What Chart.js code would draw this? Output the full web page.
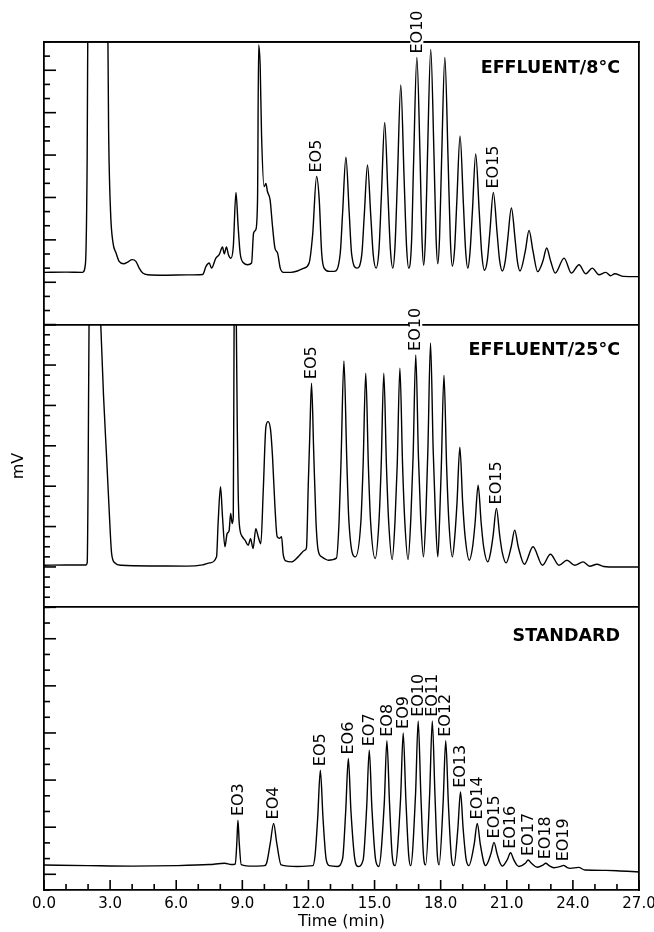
<!DOCTYPE html>
<html><head><meta charset="utf-8">
<script src="https://cdn.jsdelivr.net/npm/chart.js@4.4.1/dist/chart.umd.min.js"></script>
<style>html,body{margin:0;padding:0;background:#fff;}#wrap{width:654px;height:932px;position:relative;}</style>
</head><body><div id="wrap"><canvas id="c"></canvas></div>
<script>
// ---------- DATA ----------
// EFFLUENT/8°C trace
const time8 = [0.0,1.0,1.75,1.88,1.96,2.00,2.45,2.88,2.93,3.02,3.13,3.27,3.41,3.62,3.80,4.00,4.17,4.32,4.48,4.70,5.50,6.50,7.20,7.35,7.50,7.60,7.80,7.95,8.10,8.18,8.28,8.37,8.48,8.59,8.71,8.81,8.90,9.06,9.24,9.42,9.51,9.61,9.69,9.74,9.81,9.87,9.99,10.07,10.14,10.26,10.37,10.48,10.60,10.72,10.87,11.20,11.50,11.80,12.03,12.19,12.37,12.49,12.60,12.71,12.95,13.17,
  13.44,13.55,13.70,13.85,13.96,14.20,
  14.42,14.53,14.68,14.83,14.94,15.07,
  15.20,15.31,15.46,15.61,15.72,15.83,
  15.93,16.04,16.19,16.34,16.45,16.55,
  16.68,16.77,16.92,17.07,17.15,17.23,
  17.31,17.40,17.55,17.70,17.79,17.87,
  17.95,18.04,18.19,18.34,18.44,18.53,
  18.63,18.73,18.88,19.03,19.13,19.23,
  19.33,19.44,19.59,19.75,19.86,19.99,
  20.12,20.23,20.39,20.56,20.67,20.80,
  20.93,21.04,21.21,21.38,21.48,21.60,
  21.84,22.01,22.19,22.40,
  22.64,22.81,22.99,23.20,
  23.60,23.93,24.28,24.58,24.88,25.18,25.49,25.71,25.90,26.30,27.00];
const mv8 = [3.70,3.72,3.70,4.3,12,24,32,24,14,8,5.8,5.07,4.48,4.31,4.43,4.60,4.48,4.0,3.65,3.53,3.50,3.52,3.55,4.12,4.36,4.0,4.71,4.95,5.5,5.0,5.5,4.95,4.7,5.53,9.35,6.93,5.07,4.36,4.24,4.36,6.48,6.72,8.84,19.8,18.26,13.55,9.77,10.0,9.42,8.83,6.95,5.42,5.06,4.0,3.7,3.7,3.8,4.0,4.36,6.36,10.48,8.83,5.07,4.0,3.77,3.77,
  5.0,7.9,11.85,7.9,5.0,4.0,
  4.95,7.65,11.3,7.65,4.95,4.0,
  5.3,9.1,14.3,9.1,5.3,4.0,
  5.6,10.4,16.96,10.4,5.6,4.0,
  5.9,11.4,18.9,11.5,6.2,4.2,
  6.2,11.8,19.48,11.8,6.2,4.3,
  6.2,11.5,18.9,11.5,6.0,4.15,
  5.3,8.6,13.36,8.6,5.3,4.0,
  5.1,8.0,12.08,8.0,5.1,3.85,
  4.6,6.5,9.35,6.5,4.6,3.8,
  4.5,6.0,8.25,6.0,4.5,3.8,
  5.2,6.67,5.2,3.75,
  4.5,5.42,4.5,3.65,
  4.71,3.65,4.24,3.6,4.0,3.53,3.7,3.46,3.6,3.42,3.40];

// EFFLUENT/25°C trace
const time25 = [0.0,1.0,1.90,1.96,2.00,2.05,2.30,2.54,2.70,2.84,2.96,3.07,3.22,3.50,5.00,6.47,7.20,7.53,7.83,7.90,8.01,8.10,8.21,8.31,8.40,8.47,8.54,8.59,8.63,8.68,8.72,8.77,8.81,8.86,9.00,9.12,9.27,9.37,9.49,9.61,9.72,9.84,9.95,10.07,10.17,10.28,10.37,10.48,10.58,10.70,10.78,10.85,10.97,11.23,11.53,11.84,11.91,11.99,12.06,12.14,12.24,12.34,12.44,12.60,12.75,12.90,13.27,
  13.39,13.48,13.61,13.74,13.83,14.13,
  14.38,14.48,14.60,14.72,14.82,15.03,
  15.20,15.30,15.42,15.54,15.64,15.80,
  15.93,16.03,16.15,16.27,16.37,16.52,
  16.65,16.75,16.87,16.99,17.09,17.22,
  17.33,17.42,17.54,17.66,17.76,17.87,
  17.95,18.03,18.15,18.27,18.37,18.53,
  18.64,18.74,18.87,19.00,19.11,19.30,
  19.45,19.56,19.70,19.84,19.95,20.14,
  20.27,20.38,20.53,20.68,20.79,20.97,
  21.20,21.36,21.52,21.80,
  22.19,22.62,22.98,23.37,23.73,24.08,24.46,24.76,25.09,25.40,26.00,27.00];
const mv25 = [4.17,4.2,4.2,4.4,12,30,40,30,21,14.9,9.5,5.3,4.4,4.17,4.1,4.08,4.2,4.4,5.0,8.3,11.95,8.97,6.0,7.3,7.6,9.3,8.3,9.0,30,38,30,18,11.6,8.3,7.0,6.65,6.15,6.8,5.83,7.8,7.0,6.3,11.6,17.9,18.4,17.6,14.9,9.96,7.0,6.85,7.0,5.33,4.6,4.5,5.0,5.66,5.9,11.95,17.0,22.2,15.3,8.6,5.66,5.0,4.8,4.67,4.87,
  8.5,14.6,24.4,14.6,8.8,5.0,
  8.5,14.0,23.2,14.0,8.5,4.83,
  8.5,14.0,23.2,14.0,8.5,4.73,
  8.6,14.2,23.7,14.2,8.6,4.73,
  9.0,15.0,25.0,15.0,9.0,5.0,
  9.2,15.6,26.2,15.6,9.2,5.0,
  8.6,14.0,23.0,14.0,8.6,5.0,
  7.0,10.3,15.86,10.3,7.0,4.67,
  6.0,8.3,12.1,8.3,6.0,4.5,
  5.5,7.1,9.8,7.1,5.5,4.4,
  6.0,7.65,6.0,4.27,
  6.0,4.17,5.26,4.17,4.67,4.17,4.5,4.07,4.27,4.05,4.0,4.0];

// STANDARD trace
const timeStd = [0.0,2.0,4.0,6.0,7.5,8.2,8.50,8.68,8.75,8.80,8.86,8.95,9.5,10.0,10.10,10.27,10.42,10.56,10.76,11.5,12.20,12.30,12.42,12.54,12.66,12.80,12.95,13.30,13.55,13.69,13.81,13.93,14.10,14.25,14.48,14.64,14.76,14.88,15.05,15.19,15.44,15.56,15.68,15.80,15.93,16.18,16.30,16.42,16.55,16.64,16.86,16.98,17.10,17.22,17.32,17.50,17.62,17.74,17.85,17.93,18.11,18.23,18.35,18.48,18.60,18.78,18.90,19.02,19.15,19.28,19.52,19.66,19.80,19.95,20.04,20.28,20.42,20.56,20.70,20.79,21.03,21.17,21.31,21.45,21.55,21.84,21.97,22.12,22.38,22.64,22.77,22.92,23.13,23.45,23.58,23.72,23.88,24.26,24.55,25.5,26.0,27.0];
const mvStd = [1.59,1.55,1.52,1.55,1.62,1.70,1.62,1.65,3.0,4.45,3.0,1.62,1.52,1.55,1.7,3.0,4.24,3.0,1.6,1.5,1.55,2.2,4.6,7.63,4.6,2.0,1.55,1.5,2.0,5.0,8.37,5.0,2.0,1.5,1.9,5.2,8.9,5.2,1.9,1.5,5.5,9.5,5.5,2.2,1.55,5.8,10.0,5.8,2.2,1.55,6.1,10.77,6.1,2.2,1.6,6.1,10.77,6.1,2.2,1.6,5.5,9.5,5.5,2.2,1.55,3.9,6.25,3.9,2.0,1.55,2.9,4.24,2.9,1.8,1.55,2.3,3.03,2.3,1.7,1.52,1.95,2.37,1.95,1.6,1.5,1.7,1.91,1.7,1.45,1.58,1.7,1.55,1.42,1.5,1.57,1.45,1.38,1.44,1.27,1.25,1.23,1.15];

// Peak labels
const labels8 = ['EO5','EO10','EO15'];
const labelTime8 = [12.37,16.92,20.39];
const labelMv8 = [10.48,18.9,9.35];
const labels25 = ['EO5','EO10','EO15'];
const labelTime25 = [12.14,16.87,20.53];
const labelMv25 = [22.2,25.0,9.8];
const labelsStd = ['EO3','EO4','EO5','EO6','EO7','EO8','EO9','EO10','EO11','EO12','EO13','EO14','EO15','EO16','EO17','EO18','EO19'];
const labelTimeStd = [8.80,10.42,12.54,13.81,14.76,15.56,16.30,16.98,17.62,18.23,18.90,19.66,20.42,21.17,21.97,22.77,23.58];
const labelMvStd = [4.45,4.24,7.63,8.37,8.9,9.5,10.0,10.77,10.77,9.5,6.25,4.24,3.03,2.37,1.91,1.7,1.57];

// Panel titles
const panelTitles = ['EFFLUENT/8°C','EFFLUENT/25°C','STANDARD'];

// Axis ticks
const xTickValues = [0,1,2,3,4,5,6,7,8,9,10,11,12,13,14,15,16,17,18,19,20,21,22,23,24,25,26,27];
const xMajorTicks = [0,3,6,9,12,15,18,21,24,27];
const yTicks8 = [0,1,2,3,4,5,6,7,8,9,10,11,12,13,14,15,16,17,18,19,20];
const yMajor8 = [0,3,6,9,12,15,18];
const yTicks25 = [0,1,2,3,4,5,6,7,8,9,10,11,12,13,14,15,16,17,18,19,20,21,22,23,24,25,26,27,28];
const yMajor25 = [0,4,8,12,16,20,24,28];
const yTicksStd = [0,1,2,3,4,5,6,7,8,9,10,11,12,13,14,15,16,17,18];
const yMajorStd = [1,4,7,10,13,16];

// ---------- CHART ----------
const FONT = '"DejaVu Sans", sans-serif';
Chart.defaults.font.family = FONT;
Chart.defaults.color = '#000';

const pts = (t, v) => t.map((x, i) => ({x: x, y: v[i]}));

const panels = [
  {axis: 'y8', ticks: yTicks8, major: yMajor8, labels: labels8, lt: labelTime8, lv: labelMv8, title: panelTitles[0], tdy: 31},
  {axis: 'y25', ticks: yTicks25, major: yMajor25, labels: labels25, lt: labelTime25, lv: labelMv25, title: panelTitles[1], tdy: 30},
  {axis: 'yStd', ticks: yTicksStd, major: yMajorStd, labels: labelsStd, lt: labelTimeStd, lv: labelMvStd, title: panelTitles[2], tdy: 34}
];

function panelAxis(max, withTitle) {
  return {
    type: 'linear', position: 'left', stack: 'panels', stackWeight: 1,
    min: 0, max: max,
    ticks: {display: false, stepSize: 1},
    border: {display: true, color: '#000', width: 1.8},
    grid: {drawTicks: false, drawOnChartArea: true, lineWidth: 1.8,
      color: c => (c.tick && c.tick.value === max) ? '#000' : 'rgba(0,0,0,0)'},
    title: withTitle ? {display: true, text: 'mV', font: {size: 16}, color: '#000', padding: {top: 9, bottom: 0}} : {display: false},
    afterFit: s => { s.width = 44; }
  };
}

const clipPanels = {
  id: 'clipPanels',
  beforeDatasetDraw(chart, args) {
    const ds = chart.data.datasets[args.index];
    const s = chart.scales[ds.yAxisID];
    const a = chart.chartArea;
    chart.ctx.save();
    chart.ctx.beginPath();
    chart.ctx.rect(a.left, s.top, a.right - a.left, s.bottom - s.top);
    chart.ctx.clip();
  },
  afterDatasetDraw(chart) { chart.ctx.restore(); }
};

const decorations = {
  id: 'decorations',
  afterDraw(chart) {
    const {ctx, chartArea: a, scales} = chart;
    ctx.save();
    ctx.strokeStyle = '#000';
    ctx.lineWidth = 1.6;
    panels.forEach(p => {
      const s = scales[p.axis];
      p.ticks.forEach(v => {
        const y = s.getPixelForValue(v);
        const len = p.major.includes(v) ? 12 : 6;
        ctx.beginPath(); ctx.moveTo(a.left, y); ctx.lineTo(a.left + len, y); ctx.stroke();
      });
    });
    xTickValues.forEach(v => {
      const x = scales.x.getPixelForValue(v);
      const len = xMajorTicks.includes(v) ? 10 : 6;
      ctx.beginPath(); ctx.moveTo(x, a.bottom); ctx.lineTo(x, a.bottom - len); ctx.stroke();
    });
    ctx.font = '16px ' + FONT;
    ctx.textAlign = 'left';
    ctx.textBaseline = 'middle';
    panels.forEach(p => {
      const s = scales[p.axis];
      p.labels.forEach((lab, i) => {
        const x = scales.x.getPixelForValue(p.lt[i]);
        const y = s.getPixelForValue(p.lv[i]) - 4;
        const w = ctx.measureText(lab).width;
        ctx.save();
        ctx.translate(x, y);
        ctx.rotate(-Math.PI / 2);
        ctx.fillStyle = '#fff';
        ctx.fillRect(0, -6.5, w, 13);
        ctx.fillStyle = '#000';
        ctx.fillText(lab, 0, 0.5);
        ctx.restore();
      });
    });
    ctx.font = 'bold 17.5px ' + FONT;
    ctx.textAlign = 'right';
    ctx.textBaseline = 'alphabetic';
    ctx.fillStyle = '#000';
    panels.forEach(p => {
      const s = scales[p.axis];
      ctx.fillText(p.title, a.right - 19, s.top + p.tdy);
    });
    ctx.restore();
  }
};

const lineStyle = {borderColor: '#000', borderWidth: 1.4, pointRadius: 0, fill: false, cubicInterpolationMode: 'monotone'};

new Chart(document.getElementById('c'), {
  type: 'line',
  data: {
    datasets: [
      Object.assign({label: panelTitles[0], data: pts(time8, mv8), yAxisID: 'y8'}, lineStyle),
      Object.assign({label: panelTitles[1], data: pts(time25, mv25), yAxisID: 'y25'}, lineStyle),
      Object.assign({label: panelTitles[2], data: pts(timeStd, mvStd), yAxisID: 'yStd'}, lineStyle)
    ]
  },
  options: {
    responsive: true, maintainAspectRatio: false, animation: false,
    layout: {padding: 0},
    plugins: {legend: {display: false}, tooltip: {enabled: false}},
    scales: {
      x: {
        type: 'linear', position: 'bottom', min: 0, max: 27,
        ticks: {stepSize: 1, autoSkip: false, maxRotation: 0, padding: 5, font: {size: 15}, color: '#000',
          callback: v => xMajorTicks.includes(v) ? v.toFixed(1) : ''},
        grid: {display: false, drawTicks: false},
        border: {display: true, color: '#000', width: 1.8},
        title: {display: true, text: 'Time (min)', font: {size: 16}, color: '#000', padding: {top: 0, bottom: 1}},
        afterFit: s => { s.height = 42; s.paddingLeft = 0; s.paddingRight = 0; }
      },
      xTop: {
        type: 'linear', position: 'top', min: 0, max: 27,
        ticks: {display: false}, grid: {display: false, drawTicks: false},
        border: {display: true, color: '#000', width: 1.8},
        afterFit: s => { s.height = 42; s.paddingLeft = 0; s.paddingRight = 0; }
      },
      yRight: {
        type: 'linear', position: 'right', min: 0, max: 1,
        ticks: {display: false}, grid: {display: false, drawTicks: false},
        border: {display: true, color: '#000', width: 1.8},
        afterFit: s => { s.width = 15; }
      },
      yStd: panelAxis(18, false),
      y25: panelAxis(28, true),
      y8: panelAxis(20, false)
    }
  },
  plugins: [clipPanels, decorations]
});
</script>
</body></html>
